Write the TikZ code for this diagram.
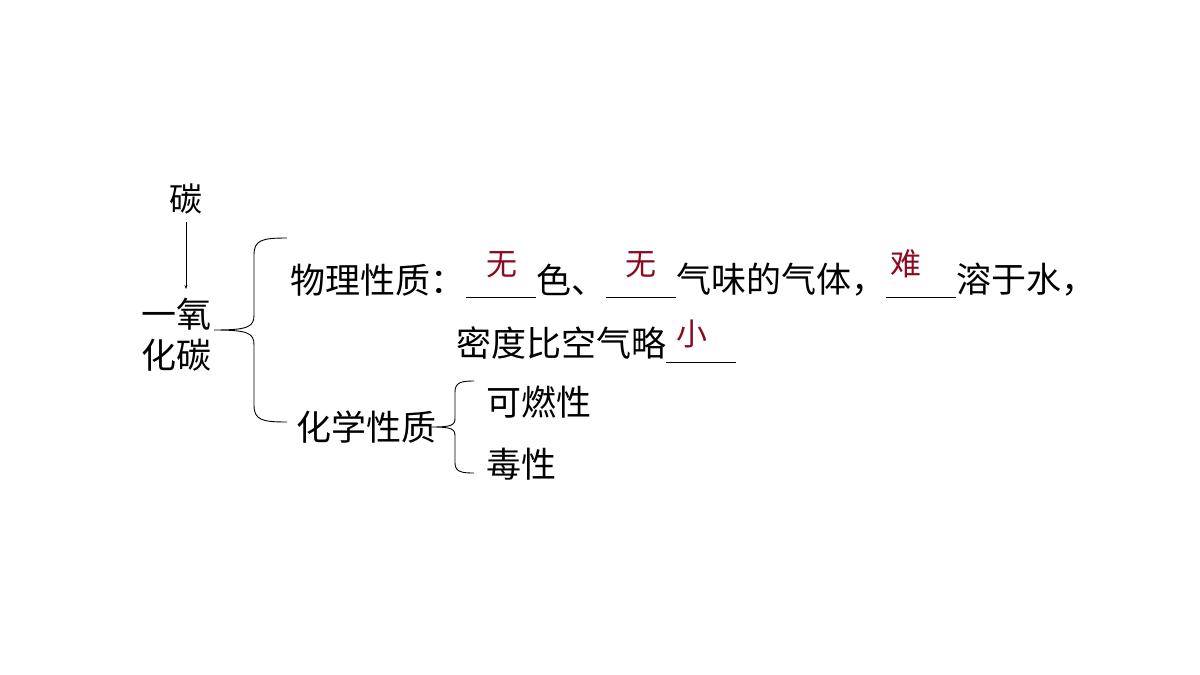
\documentclass[tikz,border=0pt]{standalone}
\usepackage{fontspec}
\setmainfont{Noto Sans CJK SC}
\usetikzlibrary{arrows.meta}
\definecolor{ansred}{HTML}{8B0A22}
\tikzset{
  txt/.style={inner sep=0pt, anchor=west, font=\fontsize{35}{40}\selectfont},
  ans/.style={inner sep=0pt, text=ansred, font=\fontsize{31}{34}\selectfont},
  blank/.style={line width=0.9pt},
  brace/.style={line width=0.9pt},
  arr/.style={line width=0.5pt, -{Stealth[length=4pt,width=3pt]}}
}
\begin{document}
\begin{tikzpicture}[x=1pt,y=-1pt]
\useasboundingbox (0,0) rectangle (1200,675);
% left
\node[inner sep=0pt, font=\fontsize{33}{36}\selectfont] (carbon) at (186,199) {碳};
\node[inner sep=0pt, align=center, font=\fontsize{35}{41}\selectfont] (co) at (176,335) {一氧\\化碳};
\draw[arr] (carbon.south |- 0,222) coordinate (a0) -- (a0 |- 0,289) coordinate (a1);
% main brace
\draw[brace] (287,238) .. controls (262,238) and (254,240) .. (254,255) -- (254,315)
  .. controls (254,327) and (248,330) .. (214,330)
  .. controls (248,330) and (254,333) .. (254,345) -- (254,405)
  .. controls (254,420) and (262,422) .. (287,422);
% physical properties
\node[txt] (phys) at (290,280) {物理性质：};
\node[txt] (se) at (536,280) {色、};
\node[txt] (qw) at (676,280) {气味的气体，};
\node[txt] (rs) at (956,280) {溶于水，};
\node[txt] (md) at (456,343) {密度比空气略};
\draw[blank] (466,297.5) -- (536,297.5);
\draw[blank] (606,297.5) -- (676,297.5);
\draw[blank] (886,297.5) -- (956,297.5);
\draw[blank] (666,362) -- (736,362);
\node[ans] (w1) at (502,265) {无};
\node[ans] (w2) at (641,265) {无};
\node[ans] (nan) at (906,264) {难};
\node[ans] (xiao) at (692,334) {小};
% chemical properties
\node[txt] (chem) at (296,427) {化学性质};
\draw[brace] (474,381) .. controls (462,381) and (455,382) .. (455,392) -- (455,418)
  .. controls (455,425) and (452,427) .. (432,427)
  .. controls (452,427) and (455,429) .. (455,436) -- (455,463)
  .. controls (455,472) and (462,473) .. (474,473);
\node[txt] (kr) at (486,402) {可燃性};
\node[txt] (dx) at (486,464) {毒性};
\end{tikzpicture}
\end{document}
